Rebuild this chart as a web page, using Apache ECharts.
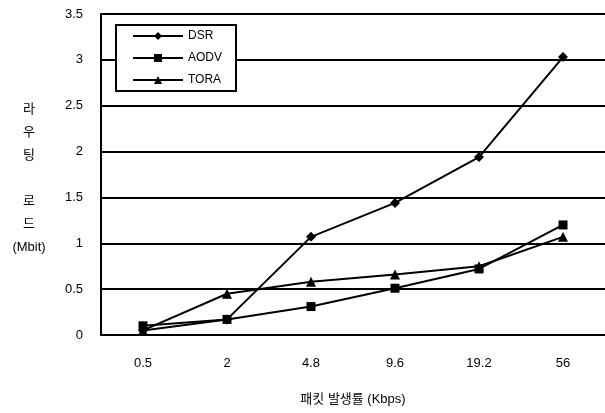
<!DOCTYPE html>
<html><head><meta charset="utf-8">
<script src="https://cdn.jsdelivr.net/npm/echarts@6/dist/echarts.min.js"></script>
<style>html,body{margin:0;padding:0;background:#fff}#c{width:605px;height:413px}</style>
</head><body><div id="c"></div>
<script>
const categories = ['0.5', '2', '4.8', '9.6', '19.2', '56'];
const dsr = [0.05, 0.17, 1.07, 1.44, 1.94, 3.03];
const aodv = [0.1, 0.17, 0.31, 0.51, 0.72, 1.2];
const tora = [0.05, 0.45, 0.58, 0.66, 0.75, 1.07];
const yTitle = '라\n우\n팅\n\n로\n드\n(Mbit)';
const xTitle = '패킷 발생률 (Kbps)';

const chart = echarts.init(document.getElementById('c'));
const font = 'Liberation Sans, Noto Sans CJK KR, sans-serif';
function s(name, data, symbol, size) {
  return {name, type: 'line', data, symbol, symbolSize: size,
    lineStyle: {color: '#000', width: 2}, itemStyle: {color: '#000'}};
}
chart.setOption({
  animation: false,
  grid: {left: 101, right: 0, top: 14, bottom: 78},
  legend: {
    orient: 'vertical', left: 116, top: 25,
    padding: [5, 14, 5, 16], itemGap: 10, itemWidth: 50, itemHeight: 10,
    borderColor: '#000', borderWidth: 2, backgroundColor: '#fff',
    textStyle: {color: '#000', fontSize: 12, fontFamily: font},
    data: ['DSR', 'AODV', 'TORA']
  },
  xAxis: {
    type: 'category', data: categories, boundaryGap: true,
    name: xTitle, nameLocation: 'middle', nameGap: 58,
    nameTextStyle: {color: '#000', fontSize: 13, fontFamily: font},
    axisLine: {lineStyle: {color: '#000', width: 2}},
    axisTick: {inside: true, length: 5, lineStyle: {color: '#000', width: 2}},
    axisLabel: {color: '#000', fontSize: 13, fontFamily: font, margin: 22}
  },
  yAxis: {
    type: 'value', min: 0, max: 3.5, interval: 0.5,
    axisLine: {show: true, lineStyle: {color: '#000', width: 2}},
    axisTick: {show: false},
    splitLine: {lineStyle: {color: '#000', width: 2}},
    axisLabel: {color: '#000', fontSize: 13, fontFamily: font, margin: 18}
  },
  graphic: [{
    type: 'text', x: 29, y: 98,
    style: {text: yTitle, fill: '#000', font: '13px ' + font, lineHeight: 23, align: 'center'}
  }],
  series: [
    s('DSR', dsr, 'diamond', 10),
    s('AODV', aodv, 'rect', 9),
    s('TORA', tora, 'triangle', 10)
  ]
});
</script></body></html>
